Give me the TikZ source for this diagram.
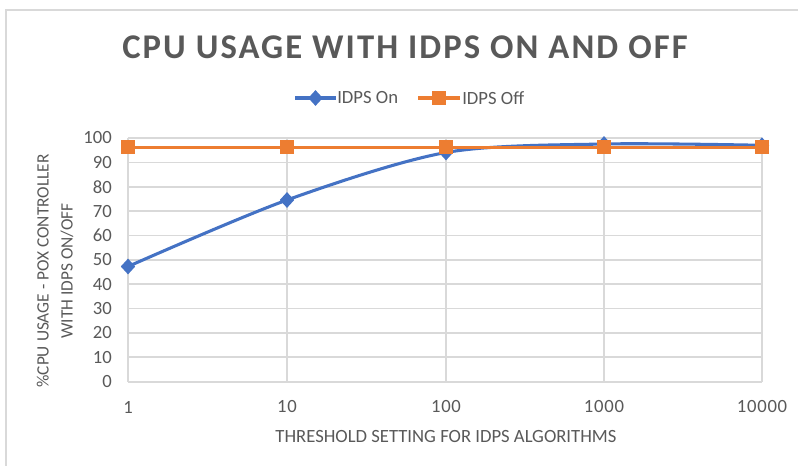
\documentclass[tikz,border=0pt]{standalone}
\usepackage{fontspec}
\setmainfont{Carlito}
\newfontfamily\titlefont[LetterSpace=6]{Carlito}
\newfontfamily\tickfont[LetterSpace=4]{Carlito}
\definecolor{txtgray}{HTML}{595959}
\definecolor{gridgray}{HTML}{D9D9D9}
\definecolor{framegray}{HTML}{D9D9D9}
\definecolor{onblue}{HTML}{4472C4}
\definecolor{offorange}{HTML}{ED7D31}
\tikzset{
  gridline/.style={draw=gridgray, line width=1.3pt},
  online/.style={draw=onblue, line width=2.3pt, line join=round},
  offline/.style={draw=offorange, line width=2.3pt},
  ondiamond/.style={fill=onblue, diamond, inner sep=0pt, minimum width=11pt, minimum height=12pt},
  offsquare/.style={fill=offorange, rectangle, inner sep=0pt, minimum size=10.5pt},
  ticklab/.style={text=txtgray, font=\fontsize{14}{16}\selectfont, inner sep=0pt},
  axtitle/.style={text=txtgray, font=\fontsize{14}{16}\selectfont, inner sep=0pt},
  legtxt/.style={text=txtgray, font=\fontsize{14}{16}\selectfont, anchor=west, inner sep=0pt},
}
\usetikzlibrary{shapes.geometric}
\begin{document}
\begin{tikzpicture}[x=0.75pt,y=-0.75pt]
\useasboundingbox (0,0) rectangle (798,466);
% chart frame
\draw[framegray, line width=1pt] (6,466) -- (6,10) -- (798,10);
% title
\node[text=txtgray, font=\titlefont\bfseries\fontsize{26}{30}\selectfont, inner sep=0pt] (title) at (405,47) {CPU USAGE WITH IDPS ON AND OFF};
% legend
\coordinate (lon1) at (295,98);
\coordinate (lon2) at (336,98);
\draw[online] (lon1) -- (lon2);
\node[ondiamond] (lond) at (315.5,98) {};
\node[legtxt] (lontxt) at (337,98) {IDPS On};
\coordinate (loff1) at (418,98);
\coordinate (loff2) at (460,98);
\draw[offline] (loff1) -- (loff2);
\node[offsquare] (loffs) at (439,98) {};
\node[legtxt] (lofftxt) at (462,98) {IDPS Off};
% grid
\foreach \v in {10,20,...,100} {
  \draw[gridline] (128,{381.7-2.437*\v}) -- (762,{381.7-2.437*\v});
}
\foreach \x in {287,446,604,762} {
  \draw[gridline] (\x,138.0) -- (\x,381.7);
}
\draw[draw=gridgray, line width=1.3pt] (128,138.0) -- (128,381.7);
\draw[draw=gridgray, line width=1.3pt] (128,381.7) -- (762,381.7);
% y tick labels
\foreach \v in {0,10,...,100} {
  \node[ticklab, anchor=east] at (112,{381.7-2.437*\v}) {\v};
}
% x tick labels
\node[ticklab] (x1) at (128,407) {\tickfont 1};
\node[ticklab] (x10) at (287,407) {\tickfont 10};
\node[ticklab] (x100) at (446,407) {\tickfont 100};
\node[ticklab] (x1000) at (604,407) {\tickfont 1000};
\node[ticklab] (x10000) at (762,407) {\tickfont 10000};
% axis titles
\node[axtitle] (xtitle) at (446,437) {THRESHOLD SETTING FOR IDPS ALGORITHMS};
\node[text=txtgray, font=\fontsize{13}{18}\selectfont, inner sep=0pt, rotate=90, align=center] (ytitle) at (55,271) {\%CPU USAGE - POX CONTROLLER\\WITH IDPS ON/OFF};
% data points
\coordinate (on1) at (128,266.5);
\coordinate (on2) at (287,200.0);
\coordinate (on3) at (446,152.5);
\coordinate (on4) at (604,144.0);
\coordinate (on5) at (762,145.3);
\coordinate (off1) at (128,147.5);
\coordinate (off2) at (287,147.5);
\coordinate (off3) at (446,147.5);
\coordinate (off4) at (604,147.5);
\coordinate (off5) at (762,147.5);
% IDPS On series
\draw[online] plot[smooth, tension=0.5] coordinates {(128,266.5) (287,200.0) (446,152.5) (604,144.0) (762,145.3)};
\foreach \p in {on1,on2,on3,on4,on5} { \node[ondiamond] at (\p) {}; }
% IDPS Off series
\draw[offline] (off1) -- (off2) -- (off3) -- (off4) -- (off5);
\foreach \p in {off1,off2,off3,off4,off5} { \node[offsquare] at (\p) {}; }
\end{tikzpicture}
\end{document}
